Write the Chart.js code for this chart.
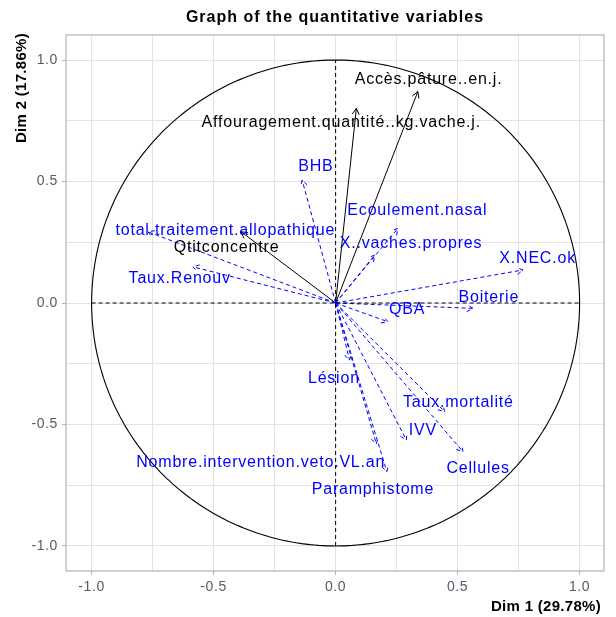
<!DOCTYPE html>
<html>
<head>
<meta charset="utf-8">
<title>Graph of the quantitative variables</title>
<script src="https://cdn.jsdelivr.net/npm/chart.js@4.4.1/dist/chart.umd.min.js"></script>
<style>
  html, body { margin: 0; padding: 0; background: #fff; }
  canvas { display: block; }
</style>
</head>
<body>
<canvas id="varChart" width="616" height="617"></canvas>
<script>
// Correlation circle of the PCA: variable coordinates on Dim 1 / Dim 2
const activeVars = ['Accès.pâture..en.j.', 'Affouragement.quantité..kg.vache.j.', 'Qtitconcentre'];
const activeDim1 = [0.337, 0.085, -0.387];
const activeDim2 = [0.870, 0.801, 0.293];

// supplementary variables (projected only, drawn dashed in blue)
const suppVars = ['BHB', 'total.traitement.allopathique', 'Taux.Renouv', 'Ecoulement.nasal',
    'X..vaches.propres', 'X.NEC.ok', 'Boiterie', 'QBA', 'Lésion', 'Taux.mortalité', 'IVV',
    'Cellules', 'Nombre.intervention.veto.VL.an', 'Paramphistome'];
const suppDim1 = [-0.137, -0.769, -0.585, 0.255, 0.160, 0.768, 0.563, 0.214, 0.057, 0.447, 0.290, 0.522, 0.167, 0.210];
const suppDim2 = [0.506, 0.293, 0.149, 0.307, 0.197, 0.136, -0.022, -0.077, -0.235, -0.447, -0.564, -0.612, -0.580, -0.694];

// label anchors (repelled away from the arrow tips), axis units
const activeLabelX = [0.381, 0.023, -0.447];
const activeLabelY = [0.918, 0.741, 0.226];
const suppLabelX = [-0.081, -0.452, -0.639, 0.335, 0.309, 0.828, 0.628, 0.293, -0.007, 0.503, 0.358, 0.584, -0.307, 0.153];
const suppLabelY = [0.561, 0.300, 0.099, 0.380, 0.246, 0.181, 0.023, -0.026, -0.313, -0.410, -0.525, -0.680, -0.658, -0.767];

const axisTicks = [-1, -0.75, -0.5, -0.25, 0, 0.25, 0.5, 0.75, 1];
const dimTitles = ['Dim 1 (29.78%)', 'Dim 2 (17.86%)'];
const chartTitle = 'Graph of the quantitative variables';

const FONT = '"Liberation Sans", Arial, sans-serif';
const BLUE = '#0000ff';

// unit circle
const circle = [];
for (let a = 0; a <= 360; a += 2) {
    circle.push({ x: Math.cos(a * Math.PI / 180), y: Math.sin(a * Math.PI / 180) });
}

function arrowSet(x, y, color, dash) {
    return {
        data: [{ x: 0, y: 0 }, { x: x, y: y }],
        showLine: true, borderColor: color, borderWidth: 1, borderDash: dash,
        pointRadius: 0, arrow: true
    };
}

const datasets = [
    // small tension keeps Chart.js off its fast path, which merges points sharing a pixel column
    { data: circle, showLine: true, borderColor: '#000', borderWidth: 1.1, pointRadius: 0, tension: 0.01 },
    { data: [{ x: -1, y: 0 }, { x: 1, y: 0 }], showLine: true, borderColor: '#000', borderWidth: 1, borderDash: [4, 3], pointRadius: 0 },
    { data: [{ x: 0, y: -1 }, { x: 0, y: 1 }], showLine: true, borderColor: '#000', borderWidth: 1, borderDash: [4, 3], pointRadius: 0 }
];
suppVars.forEach((v, i) => datasets.push(arrowSet(suppDim1[i], suppDim2[i], BLUE, [4, 3])));
activeVars.forEach((v, i) => datasets.push(arrowSet(activeDim1[i], activeDim2[i], '#000', [])));

const varPlugin = {
    id: 'varPlugin',
    beforeDraw(chart) {
        chart.ctx.letterSpacing = '0.6px';
    },
    afterDatasetsDraw(chart) {
        const ctx = chart.ctx;
        const xs = chart.scales.x, ys = chart.scales.y;

        // open arrow heads
        chart.data.datasets.forEach((ds, i) => {
            if (!ds.arrow) return;
            const pts = chart.getDatasetMeta(i).data;
            const p0 = pts[0], p1 = pts[1];
            const ang = Math.atan2(p1.y - p0.y, p1.x - p0.x);
            const len = 7;
            ctx.save();
            ctx.strokeStyle = ds.borderColor;
            ctx.lineWidth = 1;
            ctx.setLineDash(ds.borderDash);
            ctx.beginPath();
            ctx.moveTo(p1.x - len * Math.cos(ang - Math.PI / 6), p1.y - len * Math.sin(ang - Math.PI / 6));
            ctx.lineTo(p1.x, p1.y);
            ctx.lineTo(p1.x - len * Math.cos(ang + Math.PI / 6), p1.y - len * Math.sin(ang + Math.PI / 6));
            ctx.stroke();
            ctx.restore();
        });

        // variable names
        ctx.save();
        ctx.font = '16px ' + FONT;
        ctx.letterSpacing = '0.8px';
        ctx.textAlign = 'center';
        ctx.textBaseline = 'middle';
        ctx.fillStyle = BLUE;
        suppVars.forEach((v, i) => {
            ctx.fillText(v, xs.getPixelForValue(suppLabelX[i]), ys.getPixelForValue(suppLabelY[i]));
        });
        ctx.fillStyle = '#000';
        activeVars.forEach((v, i) => {
            ctx.fillText(v, xs.getPixelForValue(activeLabelX[i]), ys.getPixelForValue(activeLabelY[i]));
        });
        ctx.restore();
    },
    afterDraw(chart) {
        const ctx = chart.ctx;
        const a = chart.chartArea;
        ctx.save();
        // panel border
        ctx.strokeStyle = '#b3b3b3';
        ctx.lineWidth = 1.2;
        ctx.setLineDash([]);
        ctx.strokeRect(a.left, a.top, a.right - a.left, a.bottom - a.top);

        ctx.fillStyle = '#000';
        ctx.letterSpacing = '1px';
        ctx.font = 'bold 16px ' + FONT;
        ctx.textAlign = 'center';
        ctx.textBaseline = 'middle';
        ctx.fillText(chartTitle, (a.left + a.right) / 2, 18);

        ctx.letterSpacing = '0.3px';
        ctx.font = 'bold 15px ' + FONT;
        ctx.textAlign = 'right';
        ctx.fillText(dimTitles[0], a.right - 3, 607);

        ctx.translate(22, a.top - 2);
        ctx.rotate(-Math.PI / 2);
        ctx.fillText(dimTitles[1], 0, 0);
        ctx.restore();
        ctx.letterSpacing = '0px';
    }
};

function axisOpts(min, max) {
    return {
        type: 'linear', min: min, max: max,
        afterBuildTicks: s => { s.ticks = axisTicks.map(v => ({ value: v })); },
        ticks: {
            autoSkip: false, maxRotation: 0, padding: 4,
            color: '#555a66',
            font: { family: FONT, size: 14 },
            callback: v => (v % 0.5 === 0 ? v.toFixed(1) : '')
        },
        grid: {
            color: '#e2e2e2', lineWidth: 1, tickLength: 4,
            tickColor: c => (c.tick && c.tick.value % 0.5 === 0 ? '#b3b3b3' : 'rgba(0,0,0,0)')
        },
        border: { display: false }
    };
}

const xOpts = axisOpts(-1.105, 1.100);
xOpts.afterFit = s => { s.height = 46; };
const yOpts = axisOpts(-1.103, 1.103);
yOpts.afterFit = s => { s.width = 66; };

new Chart(document.getElementById('varChart'), {
    type: 'scatter',
    data: { datasets: datasets },
    options: {
        responsive: false,
        animation: false,
        layout: { padding: { top: 35, right: 12, left: 0, bottom: 0 } },
        plugins: { legend: { display: false }, tooltip: { enabled: false } },
        scales: { x: xOpts, y: yOpts }
    },
    plugins: [varPlugin]
});
</script>
</body>
</html>
